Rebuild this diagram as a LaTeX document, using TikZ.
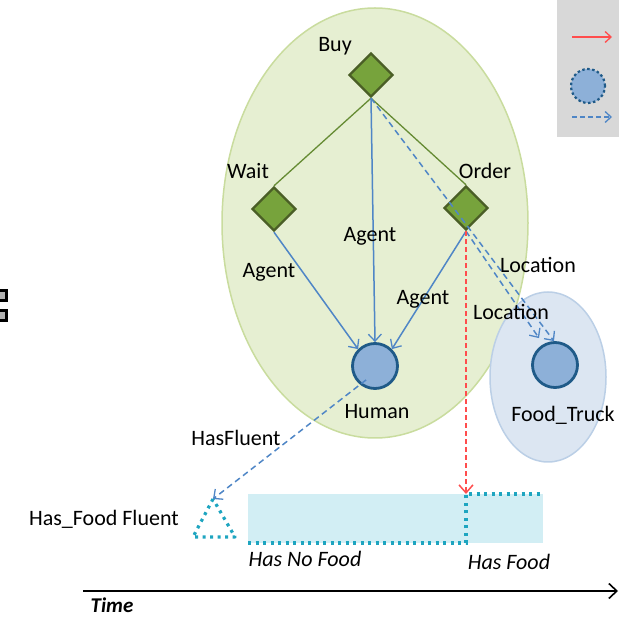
\documentclass[tikz,border=0pt]{standalone}
\usepackage{fontspec}
\setmainfont{Carlito}
\usetikzlibrary{arrows.meta,shapes.geometric}
\definecolor{envgreen}{HTML}{E6EFD2}
\definecolor{envgreenline}{HTML}{C9DC9E}
\definecolor{envblue}{HTML}{DCE6F2}
\definecolor{envblueline}{HTML}{BBCFE6}
\definecolor{actfill}{HTML}{77A33C}
\definecolor{actline}{HTML}{4A5E26}
\definecolor{objfill}{HTML}{8DB0D8}
\definecolor{objline}{HTML}{1F5A88}
\definecolor{relblue}{HTML}{4F86C6}
\definecolor{fluentc}{HTML}{1EA5C0}
\definecolor{fluentfill}{HTML}{D2EEF4}
\definecolor{causered}{HTML}{FF4D4D}
\definecolor{legendgray}{HTML}{D8D8D8}
\tikzset{
  lbl/.style={font=\fontsize{22}{25}\selectfont, text=black, inner sep=0pt},
  itl/.style={font=\fontsize{22}{25}\selectfont\itshape, text=black, inner sep=0pt},
  action/.style={diamond, draw=actline, fill=actfill, line width=2.4pt,
    minimum width=44pt, minimum height=44pt, inner sep=0pt},
  object/.style={circle, draw=objline, fill=objfill, line width=2.8pt,
    minimum size=45pt, inner sep=0pt},
  tree/.style={draw=actfill!85!black, line width=1.3pt},
  agentarr/.style={draw=relblue, line width=1.5pt,
    -{Straight Barb[length=7pt,width=13pt,line width=1.3pt]}},
  locarr/.style={draw=relblue, line width=1.5pt, dash pattern=on 6pt off 4pt,
    -{Straight Barb[length=7pt,width=13pt,line width=1.3pt]}},
  causearr/.style={draw=causered, line width=1.5pt, dash pattern=on 5pt off 3pt,
    -{Straight Barb[length=8pt,width=14pt,line width=1.5pt]}},
  dotline/.style={draw=fluentc, line width=3.2pt, dash pattern=on 3pt off 4.5pt}
}
\begin{document}
\begin{tikzpicture}[x=1pt,y=-1pt]
\useasboundingbox (0,0) rectangle (619,617);

% partially visible legend panel
\fill[legendgray] (557,-2) rectangle (625,137);
\draw[causered, line width=1.3pt, -{Straight Barb[length=6pt,width=11pt]}] (572,37) -- (612,37);
\node[circle, fill=objfill, draw=objline, line width=2.2pt, dash pattern=on 2.5pt off 2.5pt,
  minimum size=34pt, inner sep=0pt] (legobj) at (588,86) {};
\draw[relblue, line width=1.3pt, dash pattern=on 5pt off 3pt,
  -{Straight Barb[length=6pt,width=11pt]}] (572,117) -- (612,117);

% partially visible marks on the left edge
\draw[black, line width=3pt, fill=gray!60] (-8,291) rectangle (6,301);
\draw[black, line width=3pt, fill=gray!60] (-8,311) rectangle (6,321);

% environments
\node[ellipse, fill=envgreen, draw=envgreenline, line width=1.5pt,
  minimum width=306pt, minimum height=430pt] (scene) at (375,223) {};
\node[ellipse, fill=envblue, draw=envblueline, line width=1.5pt,
  minimum width=116pt, minimum height=170pt] (truckenv) at (548,377) {};

% actions and objects
\node[action] (buy) at (371,75) {};
\node[action] (wait) at (274,209) {};
\node[action] (order) at (466,208) {};
\node[object] (human) at (375,366) {};
\node[object] (truck) at (555,365) {};

\node[lbl] (buyl) at (335,46) {Buy};
\node[lbl] (waitl) at (248,171) {Wait};
\node[lbl] (orderl) at (485,171) {Order};
\node[lbl] (humanl) at (377,412) {Human};
\node[lbl] (truckl) at (563,415) {Food\_Truck};

% decomposition of Buy
\draw[tree] (buy.south) -- (wait.north);
\draw[tree] (buy.south) -- (order.north);

% agent relations
\draw[agentarr] (wait.south) -- (human.north west);
\draw[agentarr] (buy.south) -- (human.north);
\draw[agentarr] (order.south) -- (human.north east);
\node[lbl] (ag1) at (269,272) {Agent};
\node[lbl] (ag2) at (370,236) {Agent};
\node[lbl] (ag3) at (423,299) {Agent};

% location relations
\draw[locarr] (buy.south) -- ([xshift=-1pt]truck.north);
\draw[locarr] (order.south) -- ([xshift=-16pt,yshift=3pt]truck.north);
\node[lbl] (loc1) at (538,265) {Location};
\node[lbl] (loc2) at (511,312) {Location};

% fluent timeline
\coordinate (flA) at (248,494);
\coordinate (flB) at (466,494);
\coordinate (flC) at (543,494);
\coordinate (flD) at (248,543);
\coordinate (flE) at (466,543);
\coordinate (flF) at (543,543);
\fill[fluentfill] (flA) rectangle (flF);
\draw[dotline] (flD) -- (flE) -- (flB) -- (flC);
\node[itl] (nofood) at (305,559) {Has No Food};
\node[itl] (hasfood) at (509,562) {Has Food};

% fluent triangle
\coordinate (trA) at (213,499);
\coordinate (trB) at (193,537);
\coordinate (trC) at (235,537);
\draw[dotline, line join=round] (trA) -- (trB) -- (trC) -- cycle;
\node[lbl, anchor=east] (fluentl) at (179,519) {Has\_Food Fluent};

% HasFluent relation
\draw[locarr] ([xshift=8pt,yshift=3pt]human.south west) -- (trA);
\node[lbl] (hasfl) at (236,438) {HasFluent};

% causal link from Order to the fluent change
\draw[causearr] (order.south) -- (flB);

% time axis
\coordinate (t0) at (83,591);
\coordinate (t1) at (618,591);
\draw[black, line width=1.8pt, -{Straight Barb[length=8pt,width=15pt,line width=1.6pt]}] (t0) -- (t1);
\node[lbl, font=\fontsize{21}{24}\selectfont\bfseries\itshape] (timel) at (112,605) {Time};
\end{tikzpicture}
\end{document}
